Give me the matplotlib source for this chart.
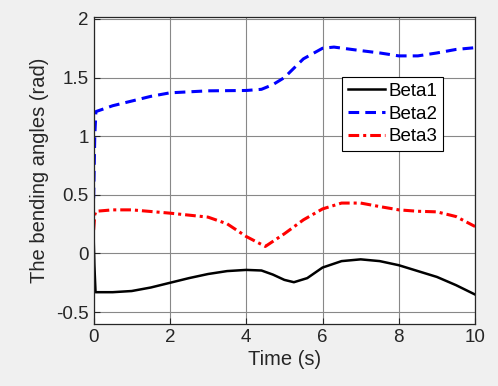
import numpy as np
import matplotlib.pyplot as plt

plt.rcParams['font.family'] = ['Liberation Sans', 'DejaVu Sans']

# values
t1 = [0, 0.02, 0.05, 0.5, 1, 1.5, 2, 2.5, 3, 3.5, 4, 4.4, 4.7, 5, 5.25, 5.6, 6, 6.5, 7, 7.5, 8, 8.5, 9, 9.5, 10]
beta1 = [0.14, -0.1, -0.33, -0.33, -0.32, -0.29, -0.25, -0.21, -0.175, -0.15, -0.14, -0.145, -0.18, -0.225, -0.245, -0.21, -0.12, -0.065, -0.05, -0.065, -0.10, -0.15, -0.2, -0.27, -0.35]

t2 = [0, 0.03, 0.06, 0.5, 1, 1.5, 2, 3, 4, 4.4, 4.7, 5, 5.5, 6, 6.3, 7, 7.5, 8, 8.5, 9, 9.5, 10]
beta2 = [0.47, 1.0, 1.21, 1.26, 1.30, 1.34, 1.37, 1.387, 1.39, 1.40, 1.44, 1.50, 1.66, 1.75, 1.76, 1.73, 1.71, 1.685, 1.685, 1.71, 1.74, 1.755]

t3 = [0, 0.03, 0.06, 0.5, 1, 2, 3, 3.5, 4, 4.5, 5, 5.5, 6, 6.5, 7, 7.5, 8, 8.5, 9, 9.5, 10]
beta3 = [0.2, 0.33, 0.36, 0.372, 0.372, 0.344, 0.31, 0.253, 0.145, 0.06, 0.168, 0.287, 0.38, 0.43, 0.43, 0.40, 0.372, 0.36, 0.355, 0.315, 0.23]

txt = '#262626'
fig = plt.figure(figsize=(4.98, 3.86), dpi=100, facecolor='#f0f0f0')
ax = fig.add_axes([0.188, 0.161, 0.766, 0.796])

ax.plot(t1, beta1, color='black', lw=1.8, label='Beta1')
ax.plot(t2, beta2, color='blue', lw=2.2, ls=(0, (3.5, 2)), label='Beta2')
ax.plot(t3, beta3, color='red', lw=2.2, ls=(0, (3.5, 1.3, 1, 1.3)), label='Beta3')

ax.set_xlim(0, 10)
ax.set_ylim(-0.6, 2.02)
ax.set_xticks([0, 2, 4, 6, 8, 10])
ax.set_yticks([-0.5, 0, 0.5, 1, 1.5, 2])
ax.set_yticklabels(['-0.5', '0', '0.5', '1', '1.5', '2'])
ax.grid(True, color='#888888', lw=0.8)
ax.tick_params(labelsize=13.5, colors=txt, direction='in', length=4, width=0.8)
for s in ax.spines.values():
    s.set_color(txt)
    s.set_linewidth(0.9)
ax.set_xlabel('Time (s)', fontsize=14.5, color=txt, labelpad=3)
ax.set_ylabel('The bending angles (rad)', fontsize=14.5, color=txt, labelpad=5)

leg = ax.legend(loc='upper left', bbox_to_anchor=(0.651, 0.803), fontsize=13.5,
                frameon=True, fancybox=False, edgecolor='black', framealpha=1,
                handlelength=2.0, handletextpad=0.2, borderpad=0.3, labelspacing=0.3,
                borderaxespad=0)
leg.get_frame().set_linewidth(0.8)

fig.savefig('out.png', dpi=100, facecolor=fig.get_facecolor())
